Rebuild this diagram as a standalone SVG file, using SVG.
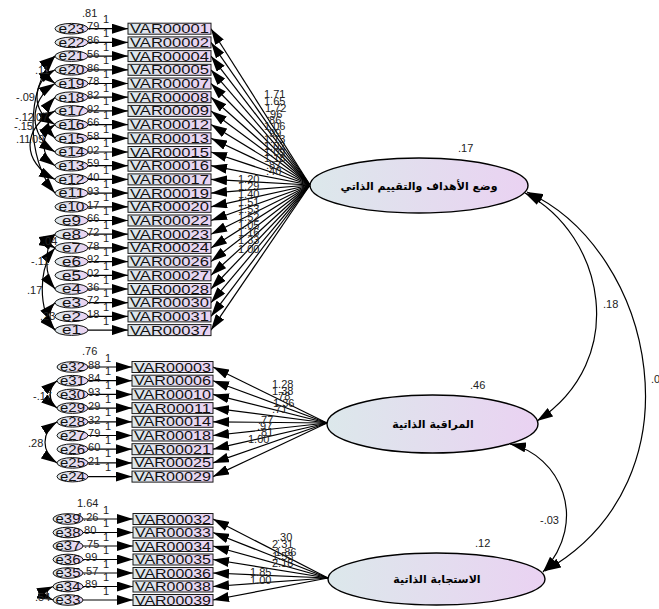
<svg xmlns="http://www.w3.org/2000/svg" width="659" height="609" viewBox="0 0 659 609">
<defs>
<linearGradient id="gb" x1="0" y1="0" x2="1" y2="0"><stop offset="0" stop-color="#dce8eb"/><stop offset="1" stop-color="#ead2f2"/></linearGradient>
<marker id="ah" markerUnits="userSpaceOnUse" markerWidth="16" markerHeight="10" viewBox="0 0 16 10" refX="16" refY="5" orient="auto-start-reverse"><path d="M0,0L16,5L0,10z" fill="#000"/></marker>
</defs>
<style>
.box{fill:url(#gb);stroke:#1a1a1a;stroke-width:1}
.vt{font-family:"Liberation Sans",Arial,sans-serif;font-size:13px;text-anchor:middle;fill:#111}
.err{fill:url(#gb);stroke:#111;stroke-width:1}
.et{font-family:"Liberation Sans",Arial,sans-serif;font-size:12.5px;text-anchor:middle;fill:#111}
.lat{fill:url(#gb);stroke:#000;stroke-width:1.4}
.at{font-family:"DejaVu Sans",sans-serif;font-weight:bold;font-size:11px;text-anchor:middle;fill:#000}
.lb{font-family:"Liberation Sans",Arial,sans-serif;font-size:11px;fill:#222}
.one{text-anchor:middle}
#connectors line,#connectors path{stroke:#000;stroke-width:1.2;fill:none}
.a{marker-end:url(#ah)}
.d{marker-start:url(#ah);marker-end:url(#ah)}
</style>

<g id="connectors">
<!-- error to indicator, top -->
<line class="a" x1="88" y1="28.7" x2="128" y2="28.7"/>
<line class="a" x1="88" y1="42.4" x2="128" y2="42.4"/>
<line class="a" x1="88" y1="56.1" x2="128" y2="56.1"/>
<line class="a" x1="88" y1="69.8" x2="128" y2="69.8"/>
<line class="a" x1="88" y1="83.5" x2="128" y2="83.5"/>
<line class="a" x1="88" y1="97.2" x2="128" y2="97.2"/>
<line class="a" x1="88" y1="110.9" x2="128" y2="110.9"/>
<line class="a" x1="88" y1="124.6" x2="128" y2="124.6"/>
<line class="a" x1="88" y1="138.3" x2="128" y2="138.3"/>
<line class="a" x1="88" y1="152" x2="128" y2="152"/>
<line class="a" x1="88" y1="165.7" x2="128" y2="165.7"/>
<line class="a" x1="88" y1="179.4" x2="128" y2="179.4"/>
<line class="a" x1="88" y1="193.1" x2="128" y2="193.1"/>
<line class="a" x1="88" y1="206.8" x2="128" y2="206.8"/>
<line class="a" x1="88" y1="220.5" x2="128" y2="220.5"/>
<line class="a" x1="88" y1="234.2" x2="128" y2="234.2"/>
<line class="a" x1="88" y1="247.9" x2="128" y2="247.9"/>
<line class="a" x1="88" y1="261.6" x2="128" y2="261.6"/>
<line class="a" x1="88" y1="275.3" x2="128" y2="275.3"/>
<line class="a" x1="88" y1="289" x2="128" y2="289"/>
<line class="a" x1="88" y1="302.7" x2="128" y2="302.7"/>
<line class="a" x1="88" y1="316.4" x2="128" y2="316.4"/>
<line class="a" x1="88" y1="330.1" x2="128" y2="330.1"/>
<!-- middle -->
<line class="a" x1="88" y1="367" x2="132" y2="367"/>
<line class="a" x1="88" y1="380.7" x2="132" y2="380.7"/>
<line class="a" x1="88" y1="394.4" x2="132" y2="394.4"/>
<line class="a" x1="88" y1="408.1" x2="132" y2="408.1"/>
<line class="a" x1="88" y1="421.8" x2="132" y2="421.8"/>
<line class="a" x1="88" y1="435.5" x2="132" y2="435.5"/>
<line class="a" x1="88" y1="449.2" x2="132" y2="449.2"/>
<line class="a" x1="88" y1="462.9" x2="132" y2="462.9"/>
<line class="a" x1="88" y1="476.6" x2="132" y2="476.6"/>
<!-- bottom -->
<line class="a" x1="83" y1="519" x2="133" y2="519"/>
<line class="a" x1="83" y1="532.5" x2="133" y2="532.5"/>
<line class="a" x1="83" y1="546" x2="133" y2="546"/>
<line class="a" x1="83" y1="559.5" x2="133" y2="559.5"/>
<line class="a" x1="83" y1="573" x2="133" y2="573"/>
<line class="a" x1="83" y1="586.5" x2="133" y2="586.5"/>
<line class="a" x1="83" y1="600" x2="133" y2="600"/>

<!-- loadings top -->
<line class="a" x1="310" y1="185" x2="211" y2="28.7"/>
<line class="a" x1="310" y1="185" x2="211" y2="42.4"/>
<line class="a" x1="310" y1="185" x2="211" y2="56.1"/>
<line class="a" x1="310" y1="185" x2="211" y2="69.8"/>
<line class="a" x1="310" y1="185" x2="211" y2="83.5"/>
<line class="a" x1="310" y1="185" x2="211" y2="97.2"/>
<line class="a" x1="310" y1="185" x2="211" y2="110.9"/>
<line class="a" x1="310" y1="185" x2="211" y2="124.6"/>
<line class="a" x1="310" y1="185" x2="211" y2="138.3"/>
<line class="a" x1="310" y1="185" x2="211" y2="152"/>
<line class="a" x1="310" y1="185" x2="211" y2="165.7"/>
<line class="a" x1="310" y1="185" x2="211" y2="179.4"/>
<line class="a" x1="310" y1="185" x2="211" y2="193.1"/>
<line class="a" x1="310" y1="185" x2="211" y2="206.8"/>
<line class="a" x1="310" y1="185" x2="211" y2="220.5"/>
<line class="a" x1="310" y1="185" x2="211" y2="234.2"/>
<line class="a" x1="310" y1="185" x2="211" y2="247.9"/>
<line class="a" x1="310" y1="185" x2="211" y2="261.6"/>
<line class="a" x1="310" y1="185" x2="211" y2="275.3"/>
<line class="a" x1="310" y1="185" x2="211" y2="289"/>
<line class="a" x1="310" y1="185" x2="211" y2="302.7"/>
<line class="a" x1="310" y1="185" x2="211" y2="316.4"/>
<line class="a" x1="310" y1="185" x2="211" y2="330.1"/>
<!-- loadings middle -->
<line class="a" x1="327" y1="423" x2="213" y2="367"/>
<line class="a" x1="327" y1="423" x2="213" y2="380.7"/>
<line class="a" x1="327" y1="423" x2="213" y2="394.4"/>
<line class="a" x1="327" y1="423" x2="213" y2="408.1"/>
<line class="a" x1="327" y1="423" x2="213" y2="421.8"/>
<line class="a" x1="327" y1="423" x2="213" y2="435.5"/>
<line class="a" x1="327" y1="423" x2="213" y2="449.2"/>
<line class="a" x1="327" y1="423" x2="213" y2="462.9"/>
<line class="a" x1="327" y1="423" x2="213" y2="476.6"/>
<!-- loadings bottom -->
<line class="a" x1="328" y1="578" x2="213" y2="519"/>
<line class="a" x1="328" y1="578" x2="213" y2="532.5"/>
<line class="a" x1="328" y1="578" x2="213" y2="546"/>
<line class="a" x1="328" y1="578" x2="213" y2="559.5"/>
<line class="a" x1="328" y1="578" x2="213" y2="573"/>
<line class="a" x1="328" y1="578" x2="213" y2="586.5"/>
<line class="a" x1="328" y1="578" x2="213" y2="600"/>

<!-- error covariances -->
<path class="d" d="M55,56.1 C45.7,62.95 45.7,76.65 55,83.5"/>
<path class="d" d="M55,69.8 C31,83.5 31,110.9 55,124.6"/>
<path class="d" d="M55,83.5 C28.3,100.6 28.3,134.9 55,152"/>
<path class="d" d="M55,97.2 C45.7,107.5 45.7,128 55,138.3"/>
<path class="d" d="M55,56.1 C25.7,90.35 25.7,158.85 55,193.1"/>
<path class="d" d="M55,110.9 C21.7,128 21.7,162.3 55,179.4"/>
<path class="d" d="M55,124.6 C40.3,134.9 40.3,155.4 55,165.7"/>
<path class="d" d="M55,234.2 C48.3,237.6 48.3,244.5 55,247.9"/>
<path class="d" d="M55,234.2 C44,247.9 44,275.3 55,289"/>
<path class="d" d="M55,247.9 C38,268.45 38,309.55 55,330.1"/>
<path class="d" d="M55,302.7 C48.3,309.55 48.3,323.25 55,330.1"/>
<path class="d" d="M57,380.7 C48,387.55 48,401.25 57,408.1"/>
<path class="d" d="M57,421.8 C41,432.1 41,452.6 57,462.9"/>
<path class="d" d="M53,586.5 C45,589.9 45,596.6 53,600"/>

<!-- factor covariances -->
<path class="d" d="M525,193 C605,235 630,360 537,421"/>
<path class="d" d="M527,192 C655,250 705,480 545,571"/>
<path class="d" d="M510,444 C560,455 590,520 543,572"/>
</g>

<g id="labels" class="lb">
<!-- "1" fixed -->
<text class="one" x="106" y="23.2">1</text><text class="one" x="106" y="36.9">1</text><text class="one" x="106" y="50.6">1</text><text class="one" x="106" y="64.3">1</text><text class="one" x="106" y="78">1</text><text class="one" x="106" y="91.7">1</text><text class="one" x="106" y="105.4">1</text><text class="one" x="106" y="119.1">1</text><text class="one" x="106" y="132.8">1</text><text class="one" x="106" y="146.5">1</text><text class="one" x="106" y="160.2">1</text><text class="one" x="106" y="173.9">1</text><text class="one" x="106" y="187.6">1</text><text class="one" x="106" y="201.3">1</text><text class="one" x="106" y="215">1</text><text class="one" x="106" y="228.7">1</text><text class="one" x="106" y="242.4">1</text><text class="one" x="106" y="256.1">1</text><text class="one" x="106" y="269.8">1</text><text class="one" x="106" y="283.5">1</text><text class="one" x="106" y="297.2">1</text><text class="one" x="106" y="310.9">1</text><text class="one" x="106" y="324.6">1</text>
<text class="one" x="108" y="361.5">1</text><text class="one" x="108" y="375.2">1</text><text class="one" x="108" y="388.9">1</text><text class="one" x="108" y="402.6">1</text><text class="one" x="108" y="416.3">1</text><text class="one" x="108" y="430">1</text><text class="one" x="108" y="443.7">1</text><text class="one" x="108" y="457.4">1</text><text class="one" x="108" y="471.1">1</text>
<text class="one" x="106" y="513.5">1</text><text class="one" x="106" y="527">1</text><text class="one" x="106" y="540.5">1</text><text class="one" x="106" y="554">1</text><text class="one" x="106" y="567.5">1</text><text class="one" x="106" y="581">1</text><text class="one" x="106" y="594.5">1</text>
<!-- error variances -->
<text x="82" y="16.7">.81</text><text x="84" y="30.4">.79</text><text x="84" y="44.1">.86</text><text x="84" y="57.8">.56</text><text x="84" y="71.5">.86</text><text x="84" y="85.2">.78</text><text x="84" y="98.9">.82</text><text x="84" y="112.6">.92</text><text x="84" y="126.3">.66</text><text x="84" y="140">.58</text><text x="84" y="153.7">.02</text><text x="84" y="167.4">.59</text><text x="84" y="181.1">.40</text><text x="84" y="194.8">.93</text><text x="84" y="208.5">.17</text><text x="84" y="222.2">.66</text><text x="84" y="235.9">.72</text><text x="84" y="249.6">.78</text><text x="84" y="263.3">.92</text><text x="84" y="277">.02</text><text x="84" y="290.7">.36</text><text x="84" y="304.4">.72</text><text x="84" y="318.1">.18</text>
<text x="82" y="355">.76</text><text x="85" y="368.7">.88</text><text x="85" y="382.4">.84</text><text x="85" y="396.1">.93</text><text x="85" y="409.8">.29</text><text x="85" y="423.5">.32</text><text x="85" y="437.2">.79</text><text x="85" y="450.9">.60</text><text x="85" y="464.6">.21</text>
<text x="77" y="507">1.64</text><text x="77" y="520.5">1.26</text><text x="81" y="534">.80</text><text x="84" y="547.5">.75</text><text x="82" y="561">.99</text><text x="83" y="574.5">.57</text><text x="82" y="588">.89</text>
<!-- error covariance labels -->
<text x="35" y="74">.11</text><text x="16" y="101">-.09</text><text x="15" y="121">-.12</text><text x="33" y="121">.07</text><text x="14" y="130">-.15</text><text x="16" y="143">.11</text><text x="29" y="143">.09</text>
<text x="42" y="245">.04</text><text x="31" y="265">-.11</text><text x="27" y="294">.17</text><text x="40" y="320">.23</text>
<text x="33" y="400">-.17</text><text x="28" y="447">.28</text><text x="35" y="601">.54</text>
<!-- loadings top -->
<text x="264" y="98">1.71</text><text x="264" y="105">1.65</text><text x="265" y="112">1.72</text><text x="267" y="118">.96</text><text x="266" y="124">.86</text><text x="264" y="130">1.06</text><text x="266" y="137">.99</text><text x="264" y="143">1.13</text><text x="264" y="150">1.02</text><text x="264" y="156">1.09</text><text x="264" y="162">1.18</text><text x="266" y="169">.87</text><text x="266" y="175">.40</text>
<text x="238" y="183">1.20</text><text x="238" y="190">1.29</text><text x="238" y="198">1.40</text><text x="238" y="206">1.51</text><text x="238" y="213">1.53</text><text x="238" y="221">1.52</text><text x="238" y="229">1.05</text><text x="238" y="236">1.16</text><text x="238" y="244">1.33</text><text x="238" y="253">1.00</text>
<!-- loadings middle -->
<text x="272" y="388">1.28</text><text x="272" y="395">1.38</text><text x="275" y="400">.78</text><text x="273" y="407">1.36</text><text x="272" y="413">.71</text><text x="258" y="424">.77</text><text x="257" y="430">.97</text><text x="258" y="436">.81</text><text x="248" y="443">1.00</text>
<!-- loadings bottom -->
<text x="277" y="541">.30</text><text x="272" y="548">2.31</text><text x="275" y="556">1.86</text><text x="272" y="560">1.53</text><text x="272" y="567">2.18</text><text x="250" y="576">1.85</text><text x="250" y="584">1.00</text>
<!-- factor labels -->
<text x="458" y="152">.17</text><text x="470" y="389">.46</text><text x="475" y="547">.12</text>
<text x="603" y="308">.18</text><text x="651" y="383">.03</text><text x="540" y="524">-.03</text>
</g>

<!-- latent factors -->
<g id="F1"><ellipse class="lat" cx="419" cy="185.5" rx="109" ry="27.5"/><text class="at" x="419" y="190">وضع الأهداف والتقييم الذاتي</text></g>
<g id="F2"><ellipse class="lat" cx="432.5" cy="424" rx="105.5" ry="29"/><text class="at" x="433" y="428">المراقبة الذاتية</text></g>
<g id="F3"><ellipse class="lat" cx="436.5" cy="579" rx="108.5" ry="26"/><text class="at" x="437" y="583">الاستجابة الذاتية</text></g>

<!-- top indicators -->
<g id="VAR00001" transform="translate(128,23.2)"><rect class="box" width="83" height="11"/><text class="vt" x="41.5" y="10" textLength="79" lengthAdjust="spacingAndGlyphs">VAR00001</text></g>
<g id="VAR00002" transform="translate(128,36.9)"><rect class="box" width="83" height="11"/><text class="vt" x="41.5" y="10" textLength="79" lengthAdjust="spacingAndGlyphs">VAR00002</text></g>
<g id="VAR00004" transform="translate(128,50.6)"><rect class="box" width="83" height="11"/><text class="vt" x="41.5" y="10" textLength="79" lengthAdjust="spacingAndGlyphs">VAR00004</text></g>
<g id="VAR00005" transform="translate(128,64.3)"><rect class="box" width="83" height="11"/><text class="vt" x="41.5" y="10" textLength="79" lengthAdjust="spacingAndGlyphs">VAR00005</text></g>
<g id="VAR00007" transform="translate(128,78)"><rect class="box" width="83" height="11"/><text class="vt" x="41.5" y="10" textLength="79" lengthAdjust="spacingAndGlyphs">VAR00007</text></g>
<g id="VAR00008" transform="translate(128,91.7)"><rect class="box" width="83" height="11"/><text class="vt" x="41.5" y="10" textLength="79" lengthAdjust="spacingAndGlyphs">VAR00008</text></g>
<g id="VAR00009" transform="translate(128,105.4)"><rect class="box" width="83" height="11"/><text class="vt" x="41.5" y="10" textLength="79" lengthAdjust="spacingAndGlyphs">VAR00009</text></g>
<g id="VAR00012" transform="translate(128,119.1)"><rect class="box" width="83" height="11"/><text class="vt" x="41.5" y="10" textLength="79" lengthAdjust="spacingAndGlyphs">VAR00012</text></g>
<g id="VAR00013" transform="translate(128,132.8)"><rect class="box" width="83" height="11"/><text class="vt" x="41.5" y="10" textLength="79" lengthAdjust="spacingAndGlyphs">VAR00013</text></g>
<g id="VAR00015" transform="translate(128,146.5)"><rect class="box" width="83" height="11"/><text class="vt" x="41.5" y="10" textLength="79" lengthAdjust="spacingAndGlyphs">VAR00015</text></g>
<g id="VAR00016" transform="translate(128,160.2)"><rect class="box" width="83" height="11"/><text class="vt" x="41.5" y="10" textLength="79" lengthAdjust="spacingAndGlyphs">VAR00016</text></g>
<g id="VAR00017" transform="translate(128,173.9)"><rect class="box" width="83" height="11"/><text class="vt" x="41.5" y="10" textLength="79" lengthAdjust="spacingAndGlyphs">VAR00017</text></g>
<g id="VAR00019" transform="translate(128,187.6)"><rect class="box" width="83" height="11"/><text class="vt" x="41.5" y="10" textLength="79" lengthAdjust="spacingAndGlyphs">VAR00019</text></g>
<g id="VAR00020" transform="translate(128,201.3)"><rect class="box" width="83" height="11"/><text class="vt" x="41.5" y="10" textLength="79" lengthAdjust="spacingAndGlyphs">VAR00020</text></g>
<g id="VAR00022" transform="translate(128,215)"><rect class="box" width="83" height="11"/><text class="vt" x="41.5" y="10" textLength="79" lengthAdjust="spacingAndGlyphs">VAR00022</text></g>
<g id="VAR00023" transform="translate(128,228.7)"><rect class="box" width="83" height="11"/><text class="vt" x="41.5" y="10" textLength="79" lengthAdjust="spacingAndGlyphs">VAR00023</text></g>
<g id="VAR00024" transform="translate(128,242.4)"><rect class="box" width="83" height="11"/><text class="vt" x="41.5" y="10" textLength="79" lengthAdjust="spacingAndGlyphs">VAR00024</text></g>
<g id="VAR00026" transform="translate(128,256.1)"><rect class="box" width="83" height="11"/><text class="vt" x="41.5" y="10" textLength="79" lengthAdjust="spacingAndGlyphs">VAR00026</text></g>
<g id="VAR00027" transform="translate(128,269.8)"><rect class="box" width="83" height="11"/><text class="vt" x="41.5" y="10" textLength="79" lengthAdjust="spacingAndGlyphs">VAR00027</text></g>
<g id="VAR00028" transform="translate(128,283.5)"><rect class="box" width="83" height="11"/><text class="vt" x="41.5" y="10" textLength="79" lengthAdjust="spacingAndGlyphs">VAR00028</text></g>
<g id="VAR00030" transform="translate(128,297.2)"><rect class="box" width="83" height="11"/><text class="vt" x="41.5" y="10" textLength="79" lengthAdjust="spacingAndGlyphs">VAR00030</text></g>
<g id="VAR00031" transform="translate(128,310.9)"><rect class="box" width="83" height="11"/><text class="vt" x="41.5" y="10" textLength="79" lengthAdjust="spacingAndGlyphs">VAR00031</text></g>
<g id="VAR00037" transform="translate(128,324.6)"><rect class="box" width="83" height="11"/><text class="vt" x="41.5" y="10" textLength="79" lengthAdjust="spacingAndGlyphs">VAR00037</text></g>
<!-- middle indicators -->
<g id="VAR00003" transform="translate(132,361.5)"><rect class="box" width="81" height="11"/><text class="vt" x="40.5" y="10" textLength="77" lengthAdjust="spacingAndGlyphs">VAR00003</text></g>
<g id="VAR00006" transform="translate(132,375.2)"><rect class="box" width="81" height="11"/><text class="vt" x="40.5" y="10" textLength="77" lengthAdjust="spacingAndGlyphs">VAR00006</text></g>
<g id="VAR00010" transform="translate(132,388.9)"><rect class="box" width="81" height="11"/><text class="vt" x="40.5" y="10" textLength="77" lengthAdjust="spacingAndGlyphs">VAR00010</text></g>
<g id="VAR00011" transform="translate(132,402.6)"><rect class="box" width="81" height="11"/><text class="vt" x="40.5" y="10" textLength="77" lengthAdjust="spacingAndGlyphs">VAR00011</text></g>
<g id="VAR00014" transform="translate(132,416.3)"><rect class="box" width="81" height="11"/><text class="vt" x="40.5" y="10" textLength="77" lengthAdjust="spacingAndGlyphs">VAR00014</text></g>
<g id="VAR00018" transform="translate(132,430)"><rect class="box" width="81" height="11"/><text class="vt" x="40.5" y="10" textLength="77" lengthAdjust="spacingAndGlyphs">VAR00018</text></g>
<g id="VAR00021" transform="translate(132,443.7)"><rect class="box" width="81" height="11"/><text class="vt" x="40.5" y="10" textLength="77" lengthAdjust="spacingAndGlyphs">VAR00021</text></g>
<g id="VAR00025" transform="translate(132,457.4)"><rect class="box" width="81" height="11"/><text class="vt" x="40.5" y="10" textLength="77" lengthAdjust="spacingAndGlyphs">VAR00025</text></g>
<g id="VAR00029" transform="translate(132,471.1)"><rect class="box" width="81" height="11"/><text class="vt" x="40.5" y="10" textLength="77" lengthAdjust="spacingAndGlyphs">VAR00029</text></g>
<!-- bottom indicators -->
<g id="VAR00032" transform="translate(133,513.5)"><rect class="box" width="80" height="11"/><text class="vt" x="40" y="10" textLength="76" lengthAdjust="spacingAndGlyphs">VAR00032</text></g>
<g id="VAR00033" transform="translate(133,527)"><rect class="box" width="80" height="11"/><text class="vt" x="40" y="10" textLength="76" lengthAdjust="spacingAndGlyphs">VAR00033</text></g>
<g id="VAR00034" transform="translate(133,540.5)"><rect class="box" width="80" height="11"/><text class="vt" x="40" y="10" textLength="76" lengthAdjust="spacingAndGlyphs">VAR00034</text></g>
<g id="VAR00035" transform="translate(133,554)"><rect class="box" width="80" height="11"/><text class="vt" x="40" y="10" textLength="76" lengthAdjust="spacingAndGlyphs">VAR00035</text></g>
<g id="VAR00036" transform="translate(133,567.5)"><rect class="box" width="80" height="11"/><text class="vt" x="40" y="10" textLength="76" lengthAdjust="spacingAndGlyphs">VAR00036</text></g>
<g id="VAR00038" transform="translate(133,581)"><rect class="box" width="80" height="11"/><text class="vt" x="40" y="10" textLength="76" lengthAdjust="spacingAndGlyphs">VAR00038</text></g>
<g id="VAR00039" transform="translate(133,594.5)"><rect class="box" width="80" height="11"/><text class="vt" x="40" y="10" textLength="76" lengthAdjust="spacingAndGlyphs">VAR00039</text></g>

<!-- error terms top -->
<g id="e23" transform="translate(71.5,28.7)"><ellipse class="err" rx="16.5" ry="5.3"/><text class="et" y="4.3" textLength="26" lengthAdjust="spacingAndGlyphs">e23</text></g>
<g id="e22" transform="translate(71.5,42.4)"><ellipse class="err" rx="16.5" ry="5.3"/><text class="et" y="4.3" textLength="26" lengthAdjust="spacingAndGlyphs">e22</text></g>
<g id="e21" transform="translate(71.5,56.1)"><ellipse class="err" rx="16.5" ry="5.3"/><text class="et" y="4.3" textLength="26" lengthAdjust="spacingAndGlyphs">e21</text></g>
<g id="e20" transform="translate(71.5,69.8)"><ellipse class="err" rx="16.5" ry="5.3"/><text class="et" y="4.3" textLength="26" lengthAdjust="spacingAndGlyphs">e20</text></g>
<g id="e19" transform="translate(71.5,83.5)"><ellipse class="err" rx="16.5" ry="5.3"/><text class="et" y="4.3" textLength="26" lengthAdjust="spacingAndGlyphs">e19</text></g>
<g id="e18" transform="translate(71.5,97.2)"><ellipse class="err" rx="16.5" ry="5.3"/><text class="et" y="4.3" textLength="26" lengthAdjust="spacingAndGlyphs">e18</text></g>
<g id="e17" transform="translate(71.5,110.9)"><ellipse class="err" rx="16.5" ry="5.3"/><text class="et" y="4.3" textLength="26" lengthAdjust="spacingAndGlyphs">e17</text></g>
<g id="e16" transform="translate(71.5,124.6)"><ellipse class="err" rx="16.5" ry="5.3"/><text class="et" y="4.3" textLength="26" lengthAdjust="spacingAndGlyphs">e16</text></g>
<g id="e15" transform="translate(71.5,138.3)"><ellipse class="err" rx="16.5" ry="5.3"/><text class="et" y="4.3" textLength="26" lengthAdjust="spacingAndGlyphs">e15</text></g>
<g id="e14" transform="translate(71.5,152)"><ellipse class="err" rx="16.5" ry="5.3"/><text class="et" y="4.3" textLength="26" lengthAdjust="spacingAndGlyphs">e14</text></g>
<g id="e13" transform="translate(71.5,165.7)"><ellipse class="err" rx="16.5" ry="5.3"/><text class="et" y="4.3" textLength="26" lengthAdjust="spacingAndGlyphs">e13</text></g>
<g id="e12" transform="translate(71.5,179.4)"><ellipse class="err" rx="16.5" ry="5.3"/><text class="et" y="4.3" textLength="26" lengthAdjust="spacingAndGlyphs">e12</text></g>
<g id="e11" transform="translate(71.5,193.1)"><ellipse class="err" rx="16.5" ry="5.3"/><text class="et" y="4.3" textLength="26" lengthAdjust="spacingAndGlyphs">e11</text></g>
<g id="e10" transform="translate(71.5,206.8)"><ellipse class="err" rx="16.5" ry="5.3"/><text class="et" y="4.3" textLength="26" lengthAdjust="spacingAndGlyphs">e10</text></g>
<g id="e9" transform="translate(71.5,220.5)"><ellipse class="err" rx="16.5" ry="5.3"/><text class="et" y="4.3" textLength="19" lengthAdjust="spacingAndGlyphs">e9</text></g>
<g id="e8" transform="translate(71.5,234.2)"><ellipse class="err" rx="16.5" ry="5.3"/><text class="et" y="4.3" textLength="19" lengthAdjust="spacingAndGlyphs">e8</text></g>
<g id="e7" transform="translate(71.5,247.9)"><ellipse class="err" rx="16.5" ry="5.3"/><text class="et" y="4.3" textLength="19" lengthAdjust="spacingAndGlyphs">e7</text></g>
<g id="e6" transform="translate(71.5,261.6)"><ellipse class="err" rx="16.5" ry="5.3"/><text class="et" y="4.3" textLength="19" lengthAdjust="spacingAndGlyphs">e6</text></g>
<g id="e5" transform="translate(71.5,275.3)"><ellipse class="err" rx="16.5" ry="5.3"/><text class="et" y="4.3" textLength="19" lengthAdjust="spacingAndGlyphs">e5</text></g>
<g id="e4" transform="translate(71.5,289)"><ellipse class="err" rx="16.5" ry="5.3"/><text class="et" y="4.3" textLength="19" lengthAdjust="spacingAndGlyphs">e4</text></g>
<g id="e3" transform="translate(71.5,302.7)"><ellipse class="err" rx="16.5" ry="5.3"/><text class="et" y="4.3" textLength="19" lengthAdjust="spacingAndGlyphs">e3</text></g>
<g id="e2" transform="translate(71.5,316.4)"><ellipse class="err" rx="16.5" ry="5.3"/><text class="et" y="4.3" textLength="19" lengthAdjust="spacingAndGlyphs">e2</text></g>
<g id="e1" transform="translate(71.5,330.1)"><ellipse class="err" rx="16.5" ry="5.3"/><text class="et" y="4.3" textLength="19" lengthAdjust="spacingAndGlyphs">e1</text></g>
<!-- error terms middle -->
<g id="e32" transform="translate(72.5,367)"><ellipse class="err" rx="15.5" ry="5.3"/><text class="et" y="4.3" textLength="25" lengthAdjust="spacingAndGlyphs">e32</text></g>
<g id="e31" transform="translate(72.5,380.7)"><ellipse class="err" rx="15.5" ry="5.3"/><text class="et" y="4.3" textLength="25" lengthAdjust="spacingAndGlyphs">e31</text></g>
<g id="e30" transform="translate(72.5,394.4)"><ellipse class="err" rx="15.5" ry="5.3"/><text class="et" y="4.3" textLength="25" lengthAdjust="spacingAndGlyphs">e30</text></g>
<g id="e29" transform="translate(72.5,408.1)"><ellipse class="err" rx="15.5" ry="5.3"/><text class="et" y="4.3" textLength="25" lengthAdjust="spacingAndGlyphs">e29</text></g>
<g id="e28" transform="translate(72.5,421.8)"><ellipse class="err" rx="15.5" ry="5.3"/><text class="et" y="4.3" textLength="25" lengthAdjust="spacingAndGlyphs">e28</text></g>
<g id="e27" transform="translate(72.5,435.5)"><ellipse class="err" rx="15.5" ry="5.3"/><text class="et" y="4.3" textLength="25" lengthAdjust="spacingAndGlyphs">e27</text></g>
<g id="e26" transform="translate(72.5,449.2)"><ellipse class="err" rx="15.5" ry="5.3"/><text class="et" y="4.3" textLength="25" lengthAdjust="spacingAndGlyphs">e26</text></g>
<g id="e25" transform="translate(72.5,462.9)"><ellipse class="err" rx="15.5" ry="5.3"/><text class="et" y="4.3" textLength="25" lengthAdjust="spacingAndGlyphs">e25</text></g>
<g id="e24" transform="translate(72.5,476.6)"><ellipse class="err" rx="15.5" ry="5.3"/><text class="et" y="4.3" textLength="25" lengthAdjust="spacingAndGlyphs">e24</text></g>
<!-- error terms bottom -->
<g id="e39" transform="translate(68,519)"><ellipse class="err" rx="15" ry="5.3"/><text class="et" y="4.3" textLength="25" lengthAdjust="spacingAndGlyphs">e39</text></g>
<g id="e38" transform="translate(68,532.5)"><ellipse class="err" rx="15" ry="5.3"/><text class="et" y="4.3" textLength="25" lengthAdjust="spacingAndGlyphs">e38</text></g>
<g id="e37" transform="translate(68,546)"><ellipse class="err" rx="15" ry="5.3"/><text class="et" y="4.3" textLength="25" lengthAdjust="spacingAndGlyphs">e37</text></g>
<g id="e36" transform="translate(68,559.5)"><ellipse class="err" rx="15" ry="5.3"/><text class="et" y="4.3" textLength="25" lengthAdjust="spacingAndGlyphs">e36</text></g>
<g id="e35" transform="translate(68,573)"><ellipse class="err" rx="15" ry="5.3"/><text class="et" y="4.3" textLength="25" lengthAdjust="spacingAndGlyphs">e35</text></g>
<g id="e34" transform="translate(68,586.5)"><ellipse class="err" rx="15" ry="5.3"/><text class="et" y="4.3" textLength="25" lengthAdjust="spacingAndGlyphs">e34</text></g>
<g id="e33" transform="translate(68,600)"><ellipse class="err" rx="15" ry="5.3"/><text class="et" y="4.3" textLength="25" lengthAdjust="spacingAndGlyphs">e33</text></g>
</svg>
